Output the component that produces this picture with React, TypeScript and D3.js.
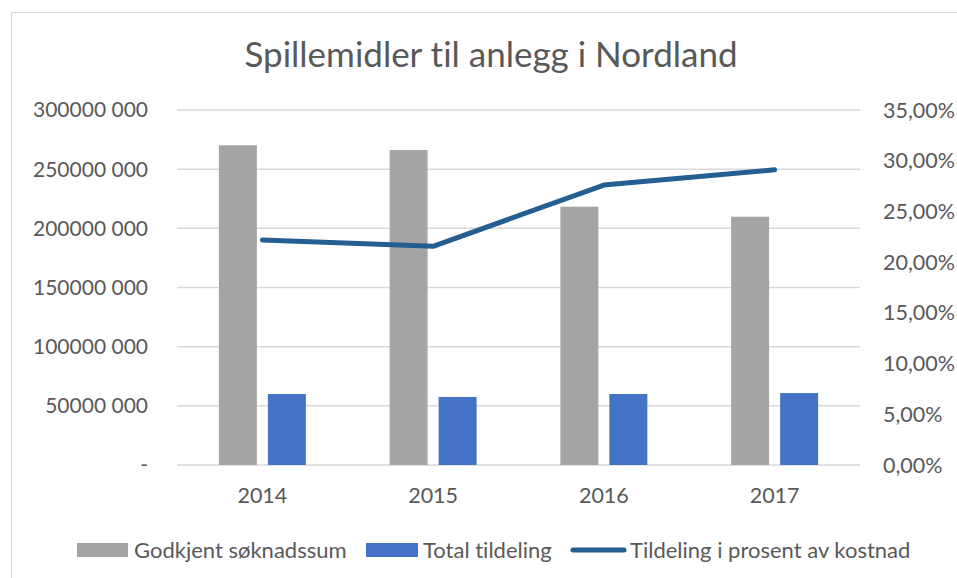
import * as d3 from "d3";
import { useEffect } from "react";

const years = ["2014", "2015", "2016", "2017"];
const godkjent = [270200000, 266200000, 218300000, 209800000];
const tildeling = [60000000, 57500000, 60000000, 60800000];
const prosent = [0.2218, 0.2156, 0.276, 0.291];
const leftTicks = [0, 50000000, 100000000, 150000000, 200000000, 250000000, 300000000];
const rightTicks = [0, 0.05, 0.1, 0.15, 0.2, 0.25, 0.3, 0.35];

const width = 957;
const height = 578;
const marginLeft = 177;
const marginRight = 97;
const marginTop = 110;
const marginBottom = 113;
const font = "Lato, 'Open Sans', sans-serif";
const textColor = "#595959";

const fmtLeft = (v: number) => {
  if (v === 0) return "-";
  const s = String(v);
  return s.slice(0, s.length - 3) + " " + s.slice(-3);
};
const fmtRight = (v: number) => (v * 100).toFixed(2).replace(".", ",") + "%";

export default function App() {
  useEffect(() => {
    document.body.style.margin = "0";
  }, []);

  const x = d3
    .scaleBand()
    .domain(years)
    .range([marginLeft, width - marginRight]);
  const yLeft = d3
    .scaleLinear()
    .domain([0, 300000000])
    .range([height - marginBottom, marginTop]);
  const yRight = d3
    .scaleLinear()
    .domain([0, 0.35])
    .range([height - marginBottom, marginTop]);

  const barW = x.bandwidth() * 0.2225;
  const gap = 11;
  const line = d3
    .line<number>()
    .x((_, i) => x(years[i])! + x.bandwidth() / 2)
    .y((d) => yRight(d));

  return (
    <svg
      width={width}
      height={height}
      style={{ display: "block", fontVariantLigatures: "none" }}
    >
      <rect x={0} y={0} width={width} height={height} fill="#fff" />
      <rect x={11.5} y={12.5} width={width} height={height} fill="none" stroke="#D9D9D9" />
      <text
        x={491}
        y={67}
        textAnchor="middle"
        fontFamily={font}
        fontSize={35}
        fill={textColor}
      >
        Spillemidler til anlegg i Nordland
      </text>

      {leftTicks.map((t) => (
        <g key={t}>
          <line
            x1={marginLeft}
            x2={width - marginRight}
            y1={yLeft(t)}
            y2={yLeft(t)}
            stroke="#D9D9D9"
            strokeWidth={1.5}
          />
          <text
            x={148}
            y={yLeft(t)}
            dy="0.35em"
            textAnchor="end"
            fontFamily={font}
            fontSize={21}
            fill={textColor}
          >
            {fmtLeft(t)}
          </text>
        </g>
      ))}
      {rightTicks.map((t) => (
        <text
          key={t}
          x={883}
          y={yRight(t)}
          dy="0.35em"
          fontFamily={font}
          fontSize={21.5}
          fill={textColor}
        >
          {fmtRight(t)}
        </text>
      ))}

      {years.map((yr, i) => {
        const c = x(yr)! + x.bandwidth() / 2;
        return (
          <g key={yr}>
            <rect
              x={c - gap / 2 - barW}
              y={yLeft(godkjent[i])}
              width={barW}
              height={yLeft(0) - yLeft(godkjent[i])}
              fill="#A5A5A5"
            />
            <rect
              x={c + gap / 2}
              y={yLeft(tildeling[i])}
              width={barW}
              height={yLeft(0) - yLeft(tildeling[i])}
              fill="#4472C4"
            />
            <text
              x={c}
              y={503}
              textAnchor="middle"
              fontFamily={font}
              fontSize={21.5}
              fill={textColor}
            >
              {yr}
            </text>
          </g>
        );
      })}

      <path
        d={line(prosent)!}
        fill="none"
        stroke="#255E91"
        strokeWidth={5}
        strokeLinecap="round"
        strokeLinejoin="round"
      />

      <g fontFamily={font} fontSize={22} fill={textColor}>
        <rect x={77} y={543} width={51} height={14} fill="#A5A5A5" />
        <text x={134} y={550} dy="0.35em">Godkjent søknadssum</text>
        <rect x={366} y={543} width={52} height={14} fill="#4472C4" />
        <text x={423} y={550} dy="0.35em">Total tildeling</text>
        <line x1={573} x2={624} y1={550} y2={550} stroke="#255E91" strokeWidth={5} strokeLinecap="round" />
        <text x={630} y={550} dy="0.35em">Tildeling i prosent av kostnad</text>
      </g>
    </svg>
  );
}
